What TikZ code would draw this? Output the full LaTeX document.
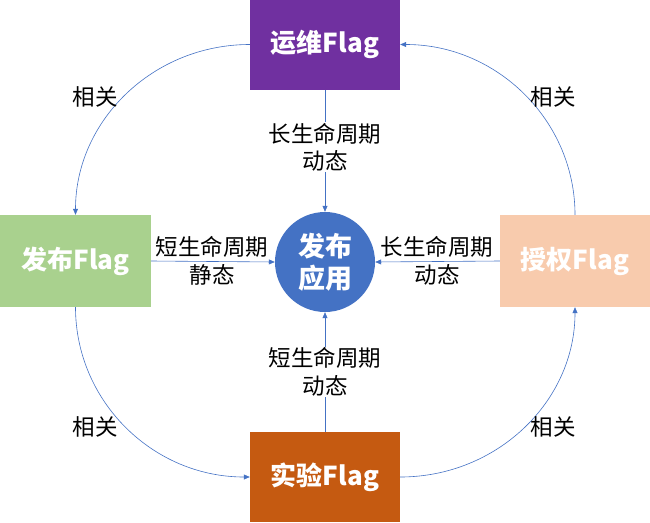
\documentclass[tikz,border=0pt]{standalone}
\usepackage{fontspec}
\setmainfont{Noto Sans CJK SC}
\usetikzlibrary{arrows.meta}
\definecolor{cpurple}{HTML}{7030A0}
\definecolor{cgreen}{HTML}{A9D18E}
\definecolor{cpeach}{HTML}{F8CBAD}
\definecolor{corange}{HTML}{C55A11}
\definecolor{cblue}{HTML}{4472C4}
\begin{document}
\begin{tikzpicture}[x=1pt,y=-1pt,
  flagbox/.style={rectangle,minimum width=150pt,minimum height=90pt,inner sep=0pt,text=white,font=\fontsize{26}{30}\selectfont\bfseries},
  conn/.style={draw=cblue,line width=0.6pt,-{Triangle[length=6pt,width=5pt]}},
  lbl/.style={font=\fontsize{22.5}{27.5}\selectfont,align=center,text=black,inner sep=1pt},
  rel/.style={font=\fontsize{22.5}{26}\selectfont,text=black}]
\useasboundingbox (0,0) rectangle (650,522);
\node[flagbox,fill=cpurple] (ops) at (325,44.5) {运维Flag};
\node[flagbox,fill=cgreen,minimum width=151pt,minimum height=92pt] (rel) at (75.5,261) {发布Flag};
\node[flagbox,fill=cpeach,minimum width=150pt,minimum height=92pt] (auth) at (575,261) {授权Flag};
\node[flagbox,fill=corange] (exp) at (325,477) {实验Flag};
\node[circle,fill=cblue,minimum size=100pt,inner sep=0pt,text=white,align=center,font=\fontsize{27}{32}\selectfont\bfseries] (app) at (325,262) {发布\\应用};

\draw[conn] (ops.south) -- (app.north) node[pos=0.47,lbl,fill=white] (l1) {长生命周期\\动态};
\draw[conn] (exp.north) -- (app.south) node[pos=0.5,lbl,fill=white] (l2) {短生命周期\\动态};
\draw[conn] (rel.east) -- (app.west);
\draw[conn] (auth.west) -- (app.east);
\node[lbl] (l3) at (212,261) {短生命周期\\静态};
\node[lbl] (l4) at (437,261) {长生命周期\\动态};

\draw[conn] (ops.west) .. controls +(-97,0) and +(0,-94) .. (rel.north);
\draw[conn] (auth.north) .. controls +(0,-94) and +(97,0) .. (ops.east);
\draw[conn] (rel.south) .. controls +(0,94) and +(-97,0) .. (exp.west);
\draw[conn] (exp.east) .. controls +(97,0) and +(0,94) .. (auth.south);

\node[rel] (r1) at (95,97) {相关};
\node[rel] (r2) at (553,97) {相关};
\node[rel] (r3) at (95,427) {相关};
\node[rel] (r4) at (553,427) {相关};
\end{tikzpicture}
\end{document}
